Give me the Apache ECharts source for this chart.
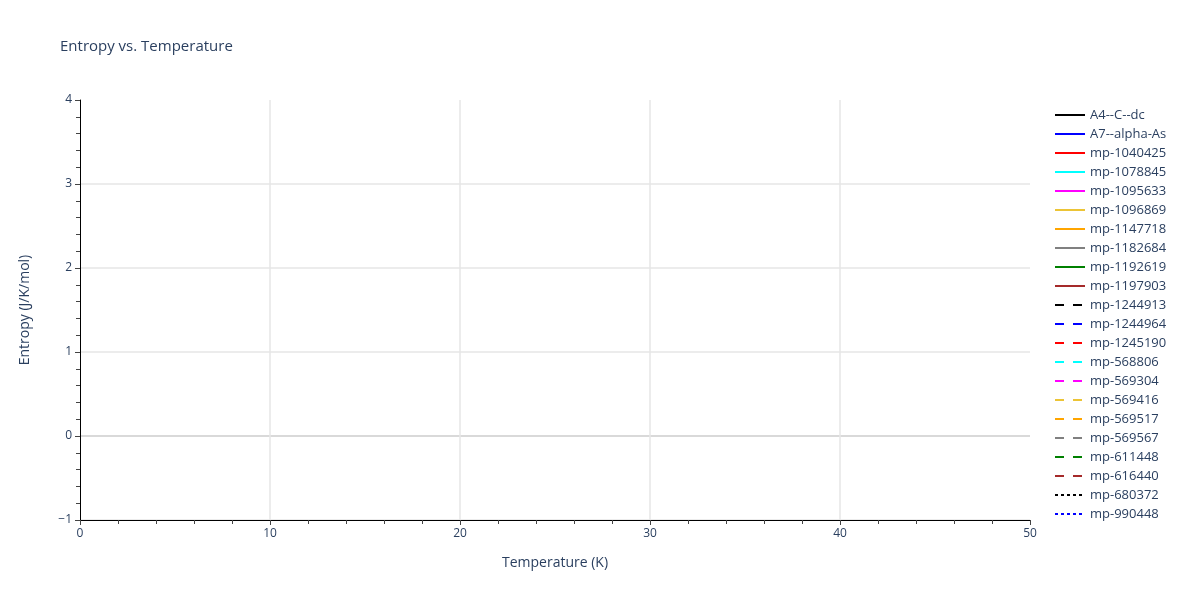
<!DOCTYPE html>
<html>
<head>
<meta charset="utf-8">
<script src="https://cdn.jsdelivr.net/npm/echarts@6/dist/echarts.min.js"></script>
<style>html,body{margin:0;padding:0;background:#fff;}#chart{width:1200px;height:600px;}</style>
</head>
<body>
<div id="chart"></div>
<script>
const seriesNames = ["A4--C--dc","A7--alpha-As","mp-1040425","mp-1078845","mp-1095633","mp-1096869","mp-1147718","mp-1182684","mp-1192619","mp-1197903","mp-1244913","mp-1244964","mp-1245190","mp-568806","mp-569304","mp-569416","mp-569517","mp-569567","mp-611448","mp-616440","mp-680372","mp-990448"];
const seriesColors = ["#000000","#0000ff","#ff0000","#00ffff","#ff00ff","#ecc436","#ffa500","#808080","#008000","#a52a2a","#000000","#0000ff","#ff0000","#00ffff","#ff00ff","#ecc436","#ffa500","#808080","#008000","#a52a2a","#000000","#0000ff"];
const seriesDash = ["solid","solid","solid","solid","solid","solid","solid","solid","solid","solid","dash","dash","dash","dash","dash","dash","dash","dash","dash","dash","dot","dot"];
// No data points are visible in the reference plot: every series is empty.
const seriesData = seriesNames.map(() => []);
const xTicks = [0,10,20,30,40,50];
const yTicks = [-1,0,1,2,3,4];

const dashMap = {solid: 'solid', dash: [9, 9], dot: [3, 3]};
const font = '"Open Sans", verdana, arial, sans-serif';
const textColor = '#2a3f5f';

const chart = echarts.init(document.getElementById('chart'));
chart.setOption({
  animation: false,
  backgroundColor: '#fff',
  title: {
    text: 'Entropy vs. Temperature',
    left: 55, top: 34,
    textStyle: {fontFamily: font, fontSize: 15, fontWeight: 'normal', color: textColor}
  },
  grid: {left: 80, right: 170, top: 100, bottom: 80, containLabel: false},
  legend: {
    orient: 'vertical',
    left: 1049, top: 103,
    itemWidth: 30, itemHeight: 14, itemGap: 5,
    itemStyle: {opacity: 0},
    lineStyle: {width: 2},
    textStyle: {fontFamily: font, fontSize: 13, color: textColor, lineHeight: 14},
    data: seriesNames.map(n => ({name: n, itemStyle: {opacity: 0}}))
  },
  xAxis: {
    type: 'value',
    min: xTicks[0], max: xTicks[xTicks.length - 1], interval: 10,
    name: 'Temperature (K)', nameLocation: 'middle', nameGap: 36,
    nameTextStyle: {fontFamily: font, fontSize: 14, color: textColor},
    axisLine: {show: true, onZero: false, lineStyle: {color: '#000', width: 1}},
    axisTick: {show: true, inside: false, length: 5, lineStyle: {color: '#444'}},
    minorTick: {show: true, splitNumber: 5, length: 4, lineStyle: {color: '#444'}},
    axisLabel: {fontFamily: font, fontSize: 12, color: textColor, margin: 8},
    splitLine: {show: true, showMinLine: false, showMaxLine: false, lineStyle: {color: '#e6e6e6', width: 1.5}}
  },
  yAxis: {
    type: 'value',
    min: yTicks[0], max: yTicks[yTicks.length - 1], interval: 1,
    name: 'Entropy (J/K/mol)', nameLocation: 'middle', nameGap: 48,
    nameTextStyle: {fontFamily: font, fontSize: 14, color: textColor},
    axisLine: {show: true, onZero: false, lineStyle: {color: '#000', width: 1}},
    axisTick: {show: true, inside: false, length: 5, lineStyle: {color: '#444'}},
    minorTick: {show: true, splitNumber: 5, length: 4, lineStyle: {color: '#444'}},
    axisLabel: {fontFamily: font, fontSize: 12, color: textColor, margin: 8,
      formatter: v => (v < 0 ? '\u2212' + Math.abs(v) : String(v))},
    splitLine: {show: true, showMinLine: true, showMaxLine: false,
      lineStyle: {color: ['#e6e6e6', '#cccccc', '#e6e6e6', '#e6e6e6', '#e6e6e6', '#e6e6e6'], width: 1.5}}
  },
  series: seriesNames.map((name, i) => ({
    name: name,
    type: 'line',
    data: seriesData[i],
    symbol: 'none',
    showSymbol: false,
    itemStyle: {color: seriesColors[i]},
    lineStyle: {color: seriesColors[i], width: 2, type: dashMap[seriesDash[i]]}
  }))
});
</script>
</body>
</html>
